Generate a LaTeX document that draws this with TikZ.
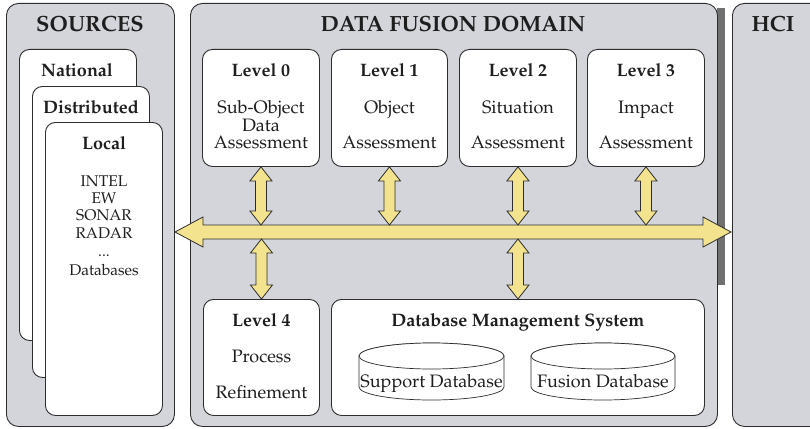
\documentclass[tikz,border=0pt]{standalone}
\usepackage[T1]{fontenc}
\usepackage{mathpazo}
\usetikzlibrary{calc}
\definecolor{panelgray}{RGB}{211,213,218}
\definecolor{linec}{RGB}{45,45,45}
\definecolor{arrowyel}{RGB}{244,227,142}
\definecolor{shadowgray}{RGB}{112,112,112}
\definecolor{textc}{RGB}{30,30,30}
\newcommand\ttlfont{\fontsize{22}{25}\selectfont\bfseries}
\newcommand\lvlfont{\fontsize{18}{21}\selectfont\bfseries}
\newcommand\txtfont{\fontsize{18}{21}\selectfont}
\newcommand\itmfont{\fontsize{15.5}{18}\selectfont}
\newcommand\vdarrow[2]{%
  \draw[arr] let \p1=(#1), \p2=(#2) in
    (\x1,\y1) -- (\x1+11pt,\y1-14pt) -- (\x1+5.5pt,\y1-14pt) -- (\x1+5.5pt,\y2+14pt)
    -- (\x1+11pt,\y2+14pt) -- (\x1,\y2) -- (\x1-11pt,\y2+14pt) -- (\x1-5.5pt,\y2+14pt)
    -- (\x1-5.5pt,\y1-14pt) -- (\x1-11pt,\y1-14pt) -- cycle;}
\begin{document}
\begin{tikzpicture}[x=1pt,y=-1pt,
  panel/.style={draw=linec, fill=panelgray, rounded corners=12pt, line width=0.9pt, inner sep=0pt, anchor=north west},
  box/.style={draw=linec, fill=white, rounded corners=10pt, line width=0.9pt, inner sep=0pt, anchor=north west},
  arr/.style={draw=linec, fill=arrowyel, line width=0.8pt, line join=miter},
  cyl/.style={draw=linec, fill=white, line width=0.7pt},
  ttl/.style={font=\ttlfont, text=textc, anchor=base, inner sep=0pt},
  lvl/.style={font=\lvlfont, text=textc, anchor=base, inner sep=0pt},
  txt/.style={font=\txtfont, text=textc, anchor=base, inner sep=0pt},
  itm/.style={font=\itmfont, text=textc, anchor=base, inner sep=0pt}]
\useasboundingbox (0,0) rectangle (810,428);
\clip (0,0) rectangle (810,428);
% panels
\fill[shadowgray] (717,8) rectangle (725,285);
\node[panel, minimum width=168, minimum height=423] (src) at (6,3) {};
\node[panel, minimum width=527, minimum height=423] (dfd) at (190,3) {};
\node[panel, minimum width=120, minimum height=423] (hci) at (732,3) {};
\node[ttl] (srct) at (90,32) {SOURCES};
\node[ttl] (dfdt) at (453,32) {DATA FUSION DOMAIN};
\node[ttl] (hcit) at (773,32) {HCI};
% sources stack
\node[box, minimum width=117, minimum height=291] (nat) at (19,49) {};
\node[box, minimum width=117, minimum height=291] (dist) at (32,86) {};
\node[box, minimum width=117, minimum height=293] (loc) at (45,122) {};
\node[lvl] (natt) at (77,76) {National};
\node[lvl] (distt) at (91,113) {Distributed};
\node[lvl] (loct) at (104,149) {Local};
\node[itm] (itm1) at (104,186) {INTEL};
\node[itm] (itm2) at (104,203) {EW};
\node[itm] (itm3) at (104,220) {SONAR};
\node[itm] (itm4) at (104,238) {RADAR};
\node[itm] (itm5) at (104,256) {...};
\node[itm] (itm6) at (104,275) {Databases};
% levels
\node[box, minimum width=117, minimum height=117] (L0) at (202,49) {};
\node[box, minimum width=116, minimum height=117] (L1) at (331,49) {};
\node[box, minimum width=117, minimum height=117] (L2) at (459,49) {};
\node[box, minimum width=117, minimum height=117] (L3) at (587,49) {};
\node[box, minimum width=116, minimum height=116] (L4) at (203,299) {};
\node[box, minimum width=373, minimum height=116] (dbms) at (331,299) {};
\node[lvl] (L0t) at (L0.north |- 0,76) {Level 0};
\node[txt] (L0a) at (L0.north |- 0,113) {Sub-Object};
\node[txt] (L0b) at (L0.north |- 0,131) {Data};
\node[txt] (L0c) at (L0.north |- 0,148) {Assessment};
\node[lvl] (L1t) at (L1.north |- 0,76) {Level 1};
\node[txt] (L1a) at (L1.north |- 0,113) {Object};
\node[txt] (L1c) at (L1.north |- 0,148) {Assessment};
\node[lvl] (L2t) at (L2.north |- 0,76) {Level 2};
\node[txt] (L2a) at (L2.north |- 0,113) {Situation};
\node[txt] (L2c) at (L2.north |- 0,148) {Assessment};
\node[lvl] (L3t) at (L3.north |- 0,76) {Level 3};
\node[txt] (L3a) at (L3.north |- 0,113) {Impact};
\node[txt] (L3c) at (L3.north |- 0,148) {Assessment};
\node[lvl] (L4t) at (L4.north |- 0,326) {Level 4};
\node[txt] (L4a) at (L4.north |- 0,362) {Process};
\node[txt] (L4c) at (L4.north |- 0,398) {Refinement};
\node[lvl] (dbmst) at (dbms.north |- 0,326) {Database Management System};
% cylinders
\filldraw[cyl] (359,356) -- (359,387) arc[start angle=180, end angle=360, x radius=72.5pt, y radius=13pt]
  -- (504,356) arc[start angle=0, end angle=180, x radius=72.5pt, y radius=13pt] -- cycle;
\draw[cyl] (431.5,356) ellipse [x radius=72.5pt, y radius=13pt];
\filldraw[cyl] (531,356) -- (531,387) arc[start angle=180, end angle=360, x radius=72pt, y radius=13pt]
  -- (675,356) arc[start angle=0, end angle=180, x radius=72pt, y radius=13pt] -- cycle;
\draw[cyl] (603,356) ellipse [x radius=72pt, y radius=13pt];
\node[txt] (sdb) at (431.5,387) {Support Database};
\node[txt] (fdb) at (603,387) {Fusion Database};
% bus
\coordinate (busL) at (175,232);
\coordinate (busR) at (731,232);
\coordinate (busT) at (0,225);
\coordinate (busB) at (0,239);
\draw[arr] let \p1=(busL), \p2=(busR) in
  (\p1) -- (\x1+28pt,\y1+15pt) -- (\x1+28pt,\y1+7pt) -- (\x2-28pt,\y1+7pt)
  -- (\x2-28pt,\y1+15pt) -- (\p2) -- (\x2-28pt,\y1-15pt) -- (\x2-28pt,\y1-7pt)
  -- (\x1+28pt,\y1-7pt) -- (\x1+28pt,\y1-15pt) -- cycle;
\vdarrow{L0.south}{L0.south |- busT}
\vdarrow{L1.south}{L1.south |- busT}
\vdarrow{L2.south}{L2.south |- busT}
\vdarrow{L3.south}{L3.south |- busT}
\vdarrow{L4.north |- busB}{L4.north}
\vdarrow{dbms.north |- busB}{dbms.north}
\end{tikzpicture}
\end{document}
